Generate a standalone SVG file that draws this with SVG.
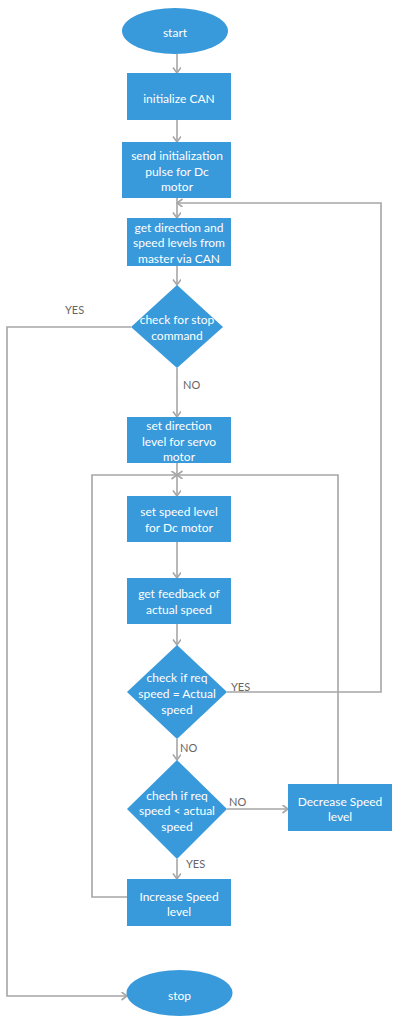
<svg xmlns="http://www.w3.org/2000/svg" width="400" height="1025" viewBox="0 0 400 1025">
<style>
.n{fill:#3899db}
.t{font-family:Lato,"Open Sans",sans-serif;font-size:12px;fill:#ffffff;text-anchor:middle;dominant-baseline:central}
.l{font-family:Lato,"Open Sans",sans-serif;font-size:11px;fill:#666666;dominant-baseline:central}
.c{fill:none;stroke:#a6a6a6;stroke-width:1.6}
</style>
<defs>
<marker id="a" markerWidth="10" markerHeight="10" refX="6" refY="4" orient="auto" markerUnits="userSpaceOnUse">
<path d="M0.5,0 L6,4 L0.5,8" fill="none" stroke="#a6a6a6" stroke-width="1.6"/>
</marker>
</defs>
<rect width="400" height="1025" fill="#ffffff"/>
<g id="connectors">
<path class="c" d="M177,54 V73" marker-end="url(#a)"/>
<path class="c" d="M177,120 V142" marker-end="url(#a)"/>
<path class="c" d="M177,198 V218" marker-end="url(#a)"/>
<path class="c" d="M177,266 V285" marker-end="url(#a)"/>
<path class="c" d="M177,368 V417" marker-end="url(#a)"/>
<path class="c" d="M177,463 V496" marker-end="url(#a)"/>
<path class="c" d="M177,542 V578" marker-end="url(#a)"/>
<path class="c" d="M177,624 V645" marker-end="url(#a)"/>
<path class="c" d="M177,739 V760" marker-end="url(#a)"/>
<path class="c" d="M177,859 V879" marker-end="url(#a)"/>
<path class="c" d="M227,809 H288" marker-end="url(#a)"/>
<path class="c" d="M227,692 H381 V203 H177" marker-end="url(#a)"/>
<path class="c" d="M131,327 H7 V996 H127" marker-end="url(#a)"/>
<path class="c" d="M338,784 V475 H177" marker-end="url(#a)"/>
<path class="c" d="M127,897 H92 V475 H177" marker-end="url(#a)"/>
</g>
<g id="start"><ellipse class="n" cx="175" cy="31" rx="53" ry="23"/><text class="t" x="175" y="32">start</text></g>
<g id="init"><rect class="n" x="127" y="73" width="104" height="47"/><text class="t" x="179" y="98">initialize CAN</text></g>
<g id="pulse"><rect class="n" x="122" y="142" width="109" height="56"/><text class="t" x="177" y="155">send initialization</text><text class="t" x="177" y="171">pulse for Dc</text><text class="t" x="177" y="186">motor</text></g>
<g id="getdir"><rect class="n" x="127" y="218" width="104" height="48"/><text class="t" x="179" y="227">get direction and</text><text class="t" x="179" y="242">speed levels from</text><text class="t" x="179" y="258">master via CAN</text></g>
<g id="stopcheck"><polygon class="n" points="177,285 223,327 177,368 131,327"/><text class="t" x="177" y="319">check for stop</text><text class="t" x="177" y="335">command</text></g>
<g id="setdir"><rect class="n" x="127" y="417" width="104" height="46"/><text class="t" x="179" y="425">set direction</text><text class="t" x="179" y="441">level for servo</text><text class="t" x="179" y="456">motor</text></g>
<g id="setspeed"><rect class="n" x="127" y="496" width="104" height="46"/><text class="t" x="179" y="511">set speed level</text><text class="t" x="179" y="527">for Dc motor</text></g>
<g id="feedback"><rect class="n" x="127" y="578" width="104" height="46"/><text class="t" x="179" y="593">get feedback of</text><text class="t" x="179" y="609">actual speed</text></g>
<g id="eqcheck"><polygon class="n" points="177,645 227,692 177,739 127,692"/><text class="t" x="177" y="677">check if req</text><text class="t" x="177" y="693">speed = Actual</text><text class="t" x="177" y="709">speed</text></g>
<g id="ltcheck"><polygon class="n" points="177,760 227,809 177,859 127,809"/><text class="t" x="177" y="795">chech if req</text><text class="t" x="177" y="810">speed &lt; actual</text><text class="t" x="177" y="826">speed</text></g>
<g id="decrease"><rect class="n" x="288" y="784" width="104" height="47"/><text class="t" x="340" y="801">Decrease Speed</text><text class="t" x="340" y="816">level</text></g>
<g id="increase"><rect class="n" x="127" y="879" width="104" height="47"/><text class="t" x="179" y="896">Increase Speed</text><text class="t" x="179" y="911">level</text></g>
<g id="stop"><ellipse class="n" cx="179.5" cy="993" rx="53" ry="23"/><text class="t" x="179.5" y="995">stop</text></g>
<g id="labels">
<text class="l" x="65" y="309">YES</text>
<text class="l" x="183" y="384">NO</text>
<text class="l" x="231" y="686">YES</text>
<text class="l" x="180" y="747">NO</text>
<text class="l" x="229" y="801">NO</text>
<text class="l" x="186" y="863">YES</text>
</g>
</svg>
